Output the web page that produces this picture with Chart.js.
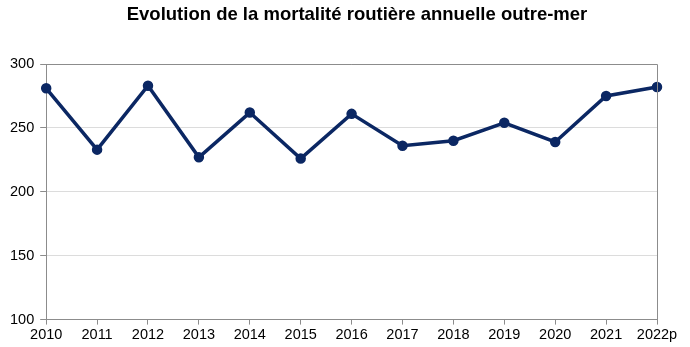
<!DOCTYPE html>
<html>
<head>
<meta charset="utf-8">
<script src="https://cdn.jsdelivr.net/npm/chart.js@4/dist/chart.umd.min.js"></script>
<style>
  html, body { margin: 0; padding: 0; background: #fff; }
  #wrap { width: 690px; height: 347px; }
</style>
</head>
<body>
<div id="wrap"><canvas id="chartMortalite"></canvas></div>
<script>
// Données : mortalité routière annuelle outre-mer
const annees = ['2010', '2011', '2012', '2013', '2014', '2015', '2016', '2017', '2018', '2019', '2020', '2021', '2022p'];
const tues   = [281, 233, 283, 227, 262, 226, 261, 236, 240, 254, 239, 275, 282];
const yTicks = [100, 150, 200, 250, 300];
const titre  = 'Evolution de la mortalité routière annuelle outre-mer';

const LINE_COLOR = '#0b2763';
const AXIS_COLOR = '#8c8c8c';
const FONT = 'Liberation Sans, Arial, sans-serif';

// cadre gris autour de la zone de tracé + titre
const cadre = {
  id: 'cadre',
  afterDraw(chart) {
    const { ctx, chartArea: a } = chart;
    ctx.save();
    ctx.strokeStyle = AXIS_COLOR;
    ctx.lineWidth = 1;
    ctx.beginPath();
    ctx.moveTo(a.left, a.top + 0.5);
    ctx.lineTo(a.right + 0.5, a.top + 0.5);
    ctx.lineTo(a.right + 0.5, a.bottom);
    ctx.stroke();
    ctx.fillStyle = '#000';
    ctx.font = 'bold 18.5px ' + FONT;
    ctx.textAlign = 'center';
    ctx.textBaseline = 'middle';
    ctx.fillText(titre, 357, 15);
    ctx.restore();
  }
};

new Chart(document.getElementById('chartMortalite'), {
  type: 'line',
  data: {
    labels: annees,
    datasets: [{
      data: tues,
      borderColor: LINE_COLOR,
      backgroundColor: LINE_COLOR,
      borderWidth: 3.5,
      pointRadius: 3.5,
      pointHoverRadius: 3.5,
      tension: 0
    }]
  },
  options: {
    responsive: true,
    maintainAspectRatio: false,
    animation: false,
    layout: { padding: { left: 4, right: 33, top: 64, bottom: 1 } },
    plugins: {
      legend: { display: false },
      tooltip: { enabled: false },
      title: { display: false }
    },
    scales: {
      x: {
        offset: false,
        grid: { drawOnChartArea: false, color: AXIS_COLOR, tickLength: 5 },
        border: { color: AXIS_COLOR, width: 1 },
        ticks: {
          color: '#000',
          font: { family: FONT, size: 14.5 },
          maxRotation: 0,
          autoSkip: false,
          padding: 2
        }
      },
      y: {
        min: 100,
        max: 300,
        afterBuildTicks: axis => { axis.ticks = yTicks.map(v => ({ value: v })); },
        grid: { color: '#dcdcdc', tickColor: AXIS_COLOR, tickLength: 6 },
        border: { color: AXIS_COLOR, width: 1 },
        ticks: {
          color: '#000',
          font: { family: FONT, size: 14.5 },
          padding: 6
        }
      }
    }
  },
  plugins: [cadre]
});
</script>
</body>
</html>
